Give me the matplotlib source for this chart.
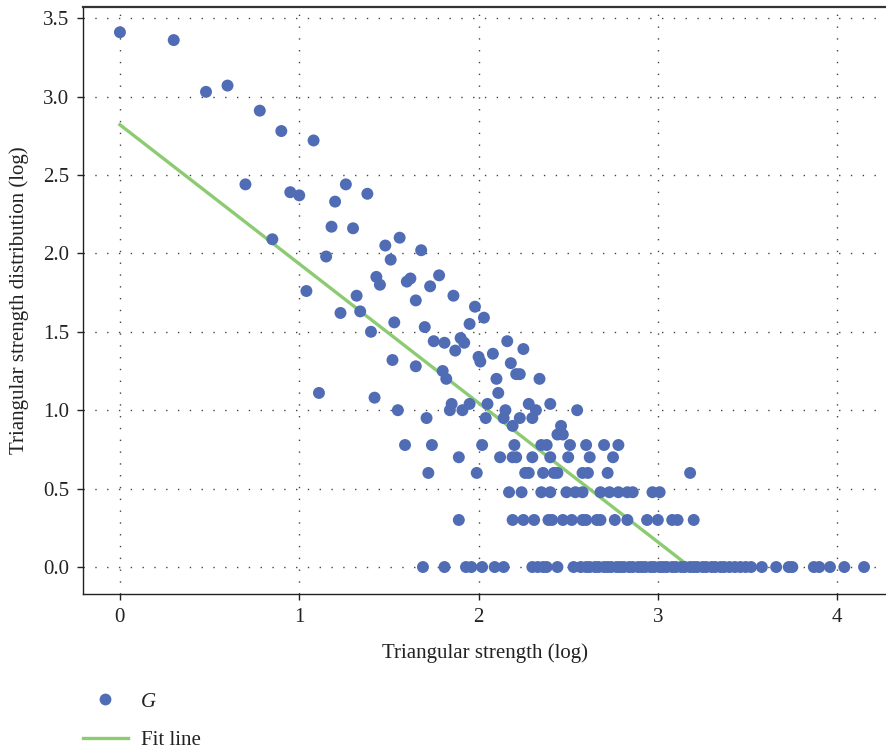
#!/usr/bin/env python3
# -*- coding: utf-8 -*-
'''
Triangular strength distribution (log-log) with linear fit line
'''
import numpy as np
import matplotlib
matplotlib.use("Agg")
import matplotlib.pyplot as plt

#**********************************************
''' data read from the figure '''
#**********************************************
# scattered upper points (x, y)
upper_x = [0.00, 0.30, 0.48, 0.60, 0.78, 0.90, 1.08, 0.70, 0.95, 1.00,
           1.26, 1.20, 1.38, 0.85, 1.18, 1.30, 1.15, 1.48, 1.56, 1.68,
           1.51, 1.04, 1.43, 1.45, 1.60, 1.62, 1.78, 1.73, 1.32, 1.65,
           1.86, 1.23, 1.34, 1.53, 1.98, 2.03, 1.40, 1.70, 1.95, 1.75,
           1.81, 1.90, 1.92, 1.87, 2.00, 2.01, 2.08, 2.16, 2.25, 1.52,
           1.65, 1.80, 1.82, 2.10, 2.18, 2.21, 2.23, 2.34, 2.11, 1.11,
           1.42]
upper_y = [3.41, 3.36, 3.03, 3.07, 2.91, 2.78, 2.72, 2.44, 2.39, 2.37,
           2.44, 2.33, 2.38, 2.09, 2.17, 2.16, 1.98, 2.05, 2.10, 2.02,
           1.96, 1.76, 1.85, 1.80, 1.82, 1.84, 1.86, 1.79, 1.73, 1.70,
           1.73, 1.62, 1.63, 1.56, 1.66, 1.59, 1.50, 1.53, 1.55, 1.44,
           1.43, 1.46, 1.43, 1.38, 1.34, 1.31, 1.36, 1.44, 1.39, 1.32,
           1.28, 1.25, 1.20, 1.20, 1.30, 1.23, 1.23, 1.20, 1.11, 1.11,
           1.08]

# points lying on the discrete count levels: level -> x positions
levels = {
    1.04: [1.85, 1.95, 2.05, 2.28, 2.40],
    1.00: [1.55, 1.84, 1.91, 2.15, 2.32, 2.55],
    0.95: [1.71, 2.04, 2.14, 2.23, 2.30],
    0.90: [2.19, 2.46],
    0.845: [2.44, 2.47],
    0.778: [1.59, 1.74, 2.02, 2.20, 2.35, 2.38, 2.51, 2.60, 2.70, 2.78],
    0.70: [1.89, 2.12, 2.19, 2.21, 2.30, 2.40, 2.50, 2.62, 2.75],
    0.60: [1.72, 1.99, 2.26, 2.28, 2.36, 2.42, 2.44, 2.58, 2.61, 2.72, 3.18],
    0.477: [2.17, 2.24, 2.35, 2.40, 2.49, 2.54, 2.58, 2.68, 2.73, 2.78,
            2.83, 2.86, 2.97, 3.01],
    0.30: [1.89, 2.19, 2.25, 2.31, 2.39, 2.41, 2.47, 2.52, 2.58, 2.60,
           2.66, 2.68, 2.76, 2.83, 2.94, 3.00, 3.08, 3.11, 3.20],
    0.00: [1.69, 1.81, 1.93, 1.96, 2.02, 2.09, 2.14, 2.30, 2.33, 2.36,
           2.38, 2.44, 2.53, 2.57, 2.60, 2.62, 2.65, 2.67, 2.70, 2.72,
           2.74, 2.77, 2.79, 2.81, 2.84, 2.86, 2.89, 2.91, 2.93, 2.96,
           2.98, 3.01, 3.03, 3.05, 3.08, 3.10, 3.13, 3.15, 3.18, 3.20,
           3.22, 3.25, 3.27, 3.30, 3.32, 3.35, 3.37, 3.40, 3.43, 3.46,
           3.49, 3.52, 3.58, 3.66, 3.73, 3.75, 3.87, 3.90, 3.96, 4.04,
           4.15],
}

# fit line end points
fit_x = [0.0, 3.18]
fit_y = [2.82, 0.0]

xticks = [0, 1, 2, 3, 4]
yticks = [0.0, 0.5, 1.0, 1.5, 2.0, 2.5, 3.0, 3.5]

#**********************************************
''' plot '''
#**********************************************
def main():
    plt.rcParams['font.family'] = ['Liberation Serif', 'DejaVu Serif']
    plt.rcParams['font.size'] = 15

    xs = list(upper_x)
    ys = list(upper_y)
    for lev, vals in levels.items():
        xs += vals
        ys += [lev] * len(vals)

    fig = plt.figure(figsize=(8.87, 7.5), dpi=100)
    ax = fig.add_axes([83/887, 1-594/750, 1-83/887, (594-7)/750])

    ax.plot(fit_x, fit_y, color='#8ccb72', lw=2.4, zorder=2)
    ax.scatter(xs, ys, s=74, color='#4f6cb5', edgecolors='none', zorder=3)

    ax.set_xlim(-0.206, 4.278)
    ax.set_ylim(-0.172, 3.571)
    ax.set_xticks(xticks)
    ax.set_yticks(yticks)
    ax.set_yticklabels(['%.1f' % v for v in yticks])

    ax.grid(True, color='#444444', lw=1.0, ls=(0, (1, 7.5)))
    ax.set_axisbelow(True)

    ax.spines['right'].set_visible(False)
    for s in ['left', 'bottom']:
        ax.spines[s].set_linewidth(1.0)
        ax.spines[s].set_color('#222222')
    ax.spines['top'].set_linewidth(1.6)
    ax.spines['top'].set_color('#333333')
    ax.tick_params(direction='out', length=4, width=1, colors='#222222',
                   labelcolor='#222222', pad=6)
    ax.tick_params(top=False, right=False)

    ax.set_xlabel('Triangular strength (log)', labelpad=12, color='#222222')
    ax.set_ylabel('Triangular strength distribution (log)', labelpad=10,
                  color='#222222')

    h1 = plt.Line2D([], [], ls='none', marker='o', ms=8.5, color='#4f6cb5',
                    mec='none')
    h2 = plt.Line2D([], [], color='#8ccb72', lw=2.4)
    leg = fig.legend([h1, h2], ['G', 'Fit line'], loc='upper left',
                     bbox_to_anchor=(83/887, 1-692/750), frameon=False,
                     borderpad=0, borderaxespad=0, handlelength=2.15,
                     handletextpad=0.65, labelspacing=0.9)
    leg.get_texts()[0].set_fontstyle('italic')
    for t in leg.get_texts():
        t.set_color('#222222')

    fig.savefig('out.png', dpi=100)

if __name__ == "__main__":
    main()
